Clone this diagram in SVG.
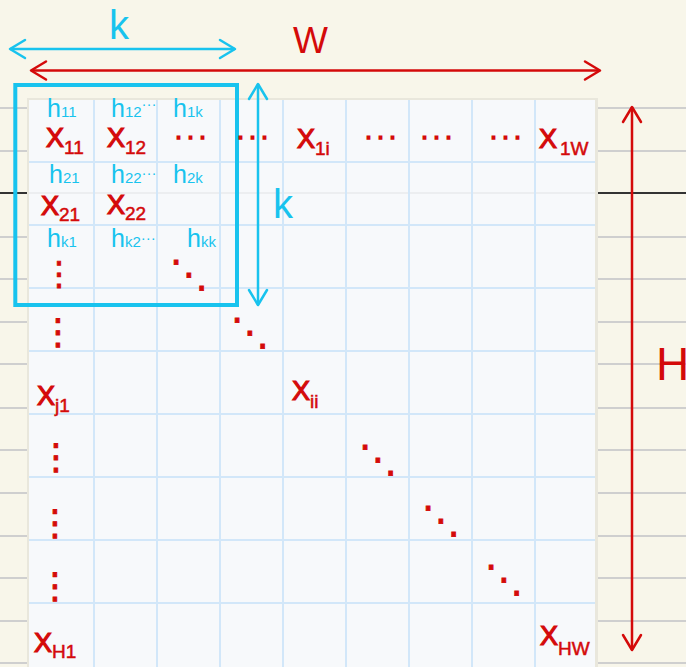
<svg xmlns="http://www.w3.org/2000/svg" width="686" height="667" viewBox="0 0 686 667">
<defs>
<style>
.nb{stroke:#cfcfcf;stroke-width:2}
.nbk{stroke:#333333;stroke-width:2}
.grid{stroke:#d2e7f9;stroke-width:2}
.red{fill:#d40a0a;font-family:"Liberation Sans",Arial,sans-serif}
.X{font-size:27px;stroke:#d40a0a;stroke-width:1.2}
.sub{font-size:19px;stroke-width:0.5}
.blue{fill:#18c3ee;font-family:"Liberation Sans",Arial,sans-serif}
.hl{font-size:25px}
.hs{font-size:15px}
.dots{font-family:"DejaVu Sans",sans-serif;fill:#d40a0a;stroke:#d40a0a;stroke-width:0.8}
.hd{font-family:"DejaVu Sans",sans-serif;fill:#d40a0a;stroke:#d40a0a;stroke-width:1.6;font-size:22px;letter-spacing:5px}
.ar{stroke:#d40a0a;stroke-width:2.5;fill:none}
.ab{stroke:#18c3ee;stroke-width:2.5;fill:none}
</style>
<marker id="mr" viewBox="-18 -12 20 24" refX="0" refY="0" markerWidth="20" markerHeight="24" markerUnits="userSpaceOnUse" orient="auto-start-reverse">
<path d="M-15,-9 L0,0 L-15,9" fill="none" stroke="#d40a0a" stroke-width="2.5" stroke-linecap="round" stroke-linejoin="round"/>
</marker>
<marker id="mb" viewBox="-18 -12 20 24" refX="0" refY="0" markerWidth="20" markerHeight="24" markerUnits="userSpaceOnUse" orient="auto-start-reverse">
<path d="M-15,-9 L0,0 L-15,9" fill="none" stroke="#18c3ee" stroke-width="2.5" stroke-linecap="round" stroke-linejoin="round"/>
</marker>
</defs>

<g id="background">
<rect x="0" y="0" width="686" height="667" fill="#f8f6ea"/>
<line class="nb" x1="0" y1="108" x2="686" y2="108"/>
<line class="nb" x1="0" y1="151" x2="686" y2="151"/>
<line class="nbk" x1="0" y1="193" x2="686" y2="193"/>
<line class="nb" x1="0" y1="237" x2="686" y2="237"/>
<line class="nb" x1="0" y1="279" x2="686" y2="279"/>
<line class="nb" x1="0" y1="322" x2="686" y2="322"/>
<line class="nb" x1="0" y1="364" x2="686" y2="364"/>
<line class="nb" x1="0" y1="408" x2="686" y2="408"/>
<line class="nb" x1="0" y1="450" x2="686" y2="450"/>
<line class="nb" x1="0" y1="493" x2="686" y2="493"/>
<line class="nb" x1="0" y1="536" x2="686" y2="536"/>
<line class="nb" x1="0" y1="578" x2="686" y2="578"/>
<line class="nb" x1="0" y1="621" x2="686" y2="621"/>
<line class="nb" x1="0" y1="663" x2="686" y2="663"/>
</g>

<g id="paper">
<rect x="27" y="98" width="571" height="569" fill="#e9e7dc"/>
<rect x="29" y="100" width="566" height="567" fill="#f7f9fb"/>
<line x1="29" y1="193" x2="595" y2="193" stroke="#eceef0" stroke-width="2"/>
<g class="grid">
<line x1="94" y1="100" x2="94" y2="667"/>
<line x1="157" y1="100" x2="157" y2="667"/>
<line x1="220" y1="100" x2="220" y2="667"/>
<line x1="283" y1="100" x2="283" y2="667"/>
<line x1="346" y1="100" x2="346" y2="667"/>
<line x1="409" y1="100" x2="409" y2="667"/>
<line x1="472" y1="100" x2="472" y2="667"/>
<line x1="535" y1="100" x2="535" y2="667"/>
<line x1="29" y1="162" x2="595" y2="162"/>
<line x1="29" y1="225" x2="595" y2="225"/>
<line x1="29" y1="288" x2="595" y2="288"/>
<line x1="29" y1="351" x2="595" y2="351"/>
<line x1="29" y1="414" x2="595" y2="414"/>
<line x1="29" y1="477" x2="595" y2="477"/>
<line x1="29" y1="540" x2="595" y2="540"/>
<line x1="29" y1="603" x2="595" y2="603"/>
</g>
</g>

<g id="kernel-box">
<rect x="15.3" y="85" width="221.7" height="220" fill="none" stroke="#18c3ee" stroke-width="4"/>
</g>

<g id="connectors">
<line class="ab" x1="10" y1="49" x2="235" y2="49" marker-start="url(#mb)" marker-end="url(#mb)"/>
<line class="ar" x1="31" y1="70.5" x2="600" y2="70.5" marker-start="url(#mr)" marker-end="url(#mr)"/>
<line class="ab" x1="258" y1="84" x2="258" y2="305" marker-start="url(#mb)" marker-end="url(#mb)"/>
<line class="ar" x1="632" y1="107" x2="632" y2="650" marker-start="url(#mr)" marker-end="url(#mr)"/>
</g>

<g id="label-k"><text class="blue" x="109" y="39" font-size="40">k</text></g>
<g id="label-W"><text class="red" x="293" y="53" font-size="37">W</text></g>
<g id="label-k2"><text class="blue" x="273" y="218" font-size="40">k</text></g>
<g id="label-H"><text class="red" x="656" y="380" font-size="46">H</text></g>

<g id="h-row1">
<text class="blue hl" x="47" y="117">h<tspan class="hs">11</tspan></text>
<text class="blue hl" x="111" y="117">h<tspan class="hs">12</tspan><tspan class="hs" dy="-8">···</tspan><tspan x="173" dy="8">h</tspan><tspan class="hs">1k</tspan></text>
</g>
<g id="h-row2">
<text class="blue hl" x="49" y="183">h<tspan class="hs">21</tspan></text>
<text class="blue hl" x="111" y="183">h<tspan class="hs">22</tspan><tspan class="hs" dy="-5">···</tspan><tspan x="173" dy="5">h</tspan><tspan class="hs">2k</tspan></text>
</g>
<g id="h-rowk">
<text class="blue hl" x="47" y="247">h<tspan class="hs">k1</tspan></text>
<text class="blue hl" x="111" y="247">h<tspan class="hs">k2</tspan><tspan class="hs" dy="-4">···</tspan><tspan x="187" dy="4">h</tspan><tspan class="hs">kk</tspan></text>
</g>

<g id="x11"><text class="red X" x="46" y="147">X<tspan class="sub" dy="7">11</tspan></text></g>
<g id="x12"><text class="red X" x="107" y="147">X<tspan class="sub" dy="7">12</tspan></text></g>
<g id="x1i"><text class="red X" x="297" y="148">X<tspan class="sub" dy="7">1i</tspan></text></g>
<g id="x1W"><text class="red X" x="539" y="148">X<tspan class="sub" dx="3" dy="7">1W</tspan></text></g>
<g id="x21"><text class="red X" x="41" y="215">X<tspan class="sub" dy="6">21</tspan></text></g>
<g id="x22"><text class="red X" x="107" y="214">X<tspan class="sub" dy="6">22</tspan></text></g>
<g id="xj1"><text class="red X" x="37" y="405">X<tspan class="sub" dy="7">j1</tspan></text></g>
<g id="xii"><text class="red X" x="292" y="400">X<tspan class="sub" dy="8">ii</tspan></text></g>
<g id="xH1"><text class="red X" x="34" y="652" font-size="30">X<tspan class="sub" dy="6">H1</tspan></text></g>
<g id="xHW"><text class="red X" x="540" y="645" font-size="30">X<tspan class="sub" dy="10">HW</tspan></text></g>

<g id="ellipses" text-anchor="middle">
<text class="hd" x="193" y="145">···</text>
<text class="hd" x="255" y="145">···</text>
<text class="hd" x="383" y="145">···</text>
<text class="hd" x="439" y="145">···</text>
<text class="hd" x="508" y="145">···</text>
<text class="dots" x="59" y="285" font-size="33">⋮</text>
<text class="dots" x="58" y="344" font-size="36">⋮</text>
<text class="dots" x="56" y="469" font-size="36">⋮</text>
<text class="dots" x="55" y="535" font-size="36">⋮</text>
<text class="dots" x="55" y="598" font-size="36">⋮</text>
<text class="dots" x="189" y="287" font-size="38">⋱</text>
<text class="dots" x="250" y="345" font-size="38">⋱</text>
<text class="dots" x="378" y="472" font-size="38">⋱</text>
<text class="dots" x="441" y="533" font-size="38">⋱</text>
<text class="dots" x="504" y="592" font-size="38">⋱</text>
</g>
</svg>
